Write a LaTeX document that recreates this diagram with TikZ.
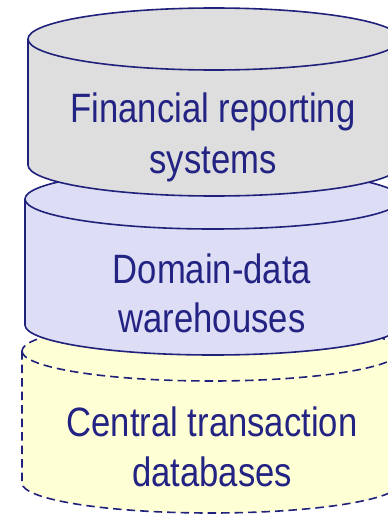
\documentclass[tikz,border=0pt]{standalone}
\usepackage{fontspec}
\setmainfont{Liberation Sans}[FakeStretch=0.845]
\definecolor{navy}{RGB}{31,33,122}
\definecolor{txtnavy}{RGB}{35,35,131}
\definecolor{cylgray}{RGB}{222,222,222}
\definecolor{cyllav}{RGB}{221,221,245}
\definecolor{cylyel}{RGB}{255,255,214}
\tikzset{
  cylline/.style={draw=navy, line width=1.6pt},
  cyldash/.style={draw=navy, line width=1.6pt, dash pattern=on 8.5pt off 5pt},
  lbl/.style={text=txtnavy, font=\fontsize{41}{51}\selectfont, anchor=base, inner sep=0pt}
}
% cylinder: #1 style, #2 fill, #3 cx, #4 top y, #5 bottom y, #6 rx, #7 ry
\newcommand{\mycyl}[7]{%
  \path[#1, fill=#2] (#3-#6,#4) -- (#3-#6,#5) arc[start angle=180, end angle=0, x radius=#6, y radius=#7]
     -- (#3+#6,#4) arc[start angle=0, end angle=-180, x radius=#6, y radius=#7] -- cycle;
  \path[#1] (#3-#6,#4) arc[start angle=180, end angle=0, x radius=#6, y radius=#7];
}
\begin{document}
\begin{tikzpicture}[x=1pt, y=-1pt]
\useasboundingbox (0,0) rectangle (388,514);
\clip (0,0) rectangle (388,514);
% bottom cylinder
\mycyl{cyldash}{cylyel}{211}{351}{483}{189}{30}
% middle cylinder
\mycyl{cylline}{cyllav}{213}{199}{325}{188}{30}
% top cylinder
\mycyl{cylline}{cylgray}{214}{39}{165}{186}{31}
% labels
\node[lbl] (t1) at (213,122) {Financial reporting};
\node[lbl] (t2) at (213,173) {systems};
\node[lbl] (m1) at (212,283) {Domain-data};
\node[lbl] (m2) at (212,332) {warehouses};
\node[lbl] (b1) at (212,436) {Central transaction};
\node[lbl] (b2) at (212,486) {databases};
\end{tikzpicture}
\end{document}
